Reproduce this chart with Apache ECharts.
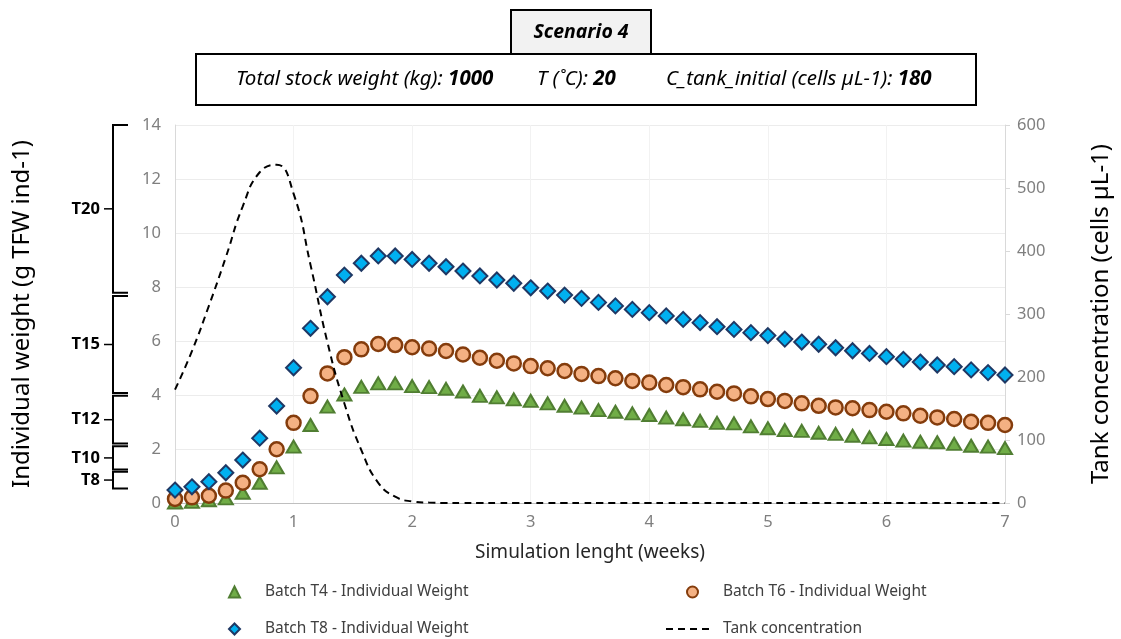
<!DOCTYPE html>
<html>
<head>
<meta charset="utf-8">
<script src="https://cdn.jsdelivr.net/npm/echarts@6/dist/echarts.min.js"></script>
<style>
  html, body { margin: 0; padding: 0; background: #fff; }
  #chart { width: 1121px; height: 639px; }
</style>
</head>
<body>
<div id="chart"></div>
<script>
// simulation day (one point per day, 7 weeks)
const days = [0, 1, 2, 3, 4, 5, 6, 7, 8, 9, 10, 11, 12, 13, 14, 15, 16, 17, 18, 19, 20, 21, 22, 23, 24,
  25, 26, 27, 28, 29, 30, 31, 32, 33, 34, 35, 36, 37, 38, 39, 40, 41, 42, 43, 44, 45, 46, 47, 48, 49]

const batchT4 = [0.02, 0.04, 0.10, 0.17, 0.38, 0.75, 1.32, 2.09, 2.89, 3.57,
  4.02, 4.30, 4.43, 4.43, 4.33, 4.29, 4.23, 4.13, 3.97, 3.91,
  3.84, 3.78, 3.69, 3.60, 3.53, 3.44, 3.38, 3.32, 3.26, 3.16,
  3.10, 3.04, 2.97, 2.95, 2.84, 2.77, 2.70, 2.67, 2.60, 2.56,
  2.49, 2.43, 2.37, 2.31, 2.27, 2.25, 2.19, 2.12, 2.09, 2.03]

const batchT6 = [0.15, 0.21, 0.27, 0.46, 0.75, 1.25, 1.99, 2.97, 3.96, 4.80,
  5.40, 5.69, 5.89, 5.85, 5.77, 5.72, 5.63, 5.50, 5.38, 5.27,
  5.17, 5.07, 4.99, 4.89, 4.78, 4.70, 4.62, 4.52, 4.46, 4.37,
  4.29, 4.21, 4.12, 4.06, 3.95, 3.85, 3.78, 3.69, 3.60, 3.54,
  3.51, 3.44, 3.38, 3.32, 3.23, 3.17, 3.11, 3.01, 2.97, 2.89]

const batchT8 = [0.48, 0.60, 0.79, 1.12, 1.59, 2.40, 3.59, 5.01, 6.47, 7.64,
  8.44, 8.88, 9.15, 9.15, 9.02, 8.88, 8.75, 8.59, 8.41, 8.26,
  8.14, 7.97, 7.85, 7.70, 7.58, 7.43, 7.30, 7.17, 7.05, 6.93,
  6.80, 6.68, 6.53, 6.43, 6.31, 6.20, 6.07, 5.96, 5.88, 5.75,
  5.64, 5.54, 5.42, 5.32, 5.22, 5.11, 5.05, 4.93, 4.83, 4.74]

// cells µL-1
const tankConc = [180, 241, 313, 390, 471, 525, 537, 491, 378, 255,
  158, 84, 32, 10, 2.5, 0.6, 0.1, 0, 0, 0,
  0, 0, 0, 0, 0, 0, 0, 0, 0, 0,
  0, 0, 0, 0, 0, 0, 0, 0, 0, 0,
  0, 0, 0, 0, 0, 0, 0, 0, 0, 0]

const seriesNames = ['Batch T4 - Individual Weight', 'Batch T6 - Individual Weight',
  'Batch T8 - Individual Weight', 'Tank concentration']

// temperature brackets beside the weight axis (weight units)
const bracketLabels = ['T20', 'T15', 'T12', 'T10', 'T8']
const bracketTop = [14, 7.67, 3.97, 2.10, 1.16]
const bracketBottom = [7.79, 4.07, 2.20, 1.24, 0.54]

const FONT = 'Noto Sans'
const toWeeks = (arr) => arr.map((v, i) => [days[i] / 7, v])

const chart = echarts.init(document.getElementById('chart'))

const legendText = (padLeft) => ({
  fontSize: 15.5, color: '#404040', fontFamily: FONT, padding: [0, 0, 0, padLeft]
})

const option = {
  animation: false,
  backgroundColor: '#fff',
  textStyle: { fontFamily: FONT },
  grid: { left: 175, right: 116, top: 125, bottom: 136 },
  xAxis: {
    type: 'value',
    min: 0,
    max: 7,
    interval: 1,
    name: 'Simulation lenght (weeks)',
    nameLocation: 'middle',
    nameGap: 40,
    nameTextStyle: { fontSize: 19, color: '#262626', fontFamily: FONT },
    axisLine: { lineStyle: { color: '#bfbfbf', width: 1 } },
    axisTick: { show: false },
    axisLabel: { color: '#7f7f7f', fontSize: 16.5, margin: 11, fontFamily: FONT },
    splitLine: { show: true, lineStyle: { color: '#f2f2f2' } }
  },
  yAxis: [
    {
      type: 'value',
      min: 0,
      max: 14,
      interval: 2,
      name: 'Individual weight (g TFW ind-1)',
      nameLocation: 'middle',
      nameGap: 141,
      nameTextStyle: { fontSize: 24, color: '#000', fontFamily: FONT },
      axisLine: { show: true, lineStyle: { color: '#d9d9d9' } },
      axisTick: { show: false },
      axisLabel: { color: '#7f7f7f', fontSize: 16.5, margin: 14, fontFamily: FONT },
      splitLine: { show: true, lineStyle: { color: '#ececec' } }
    },
    {
      type: 'value',
      min: 0,
      max: 600,
      interval: 100,
      position: 'right',
      name: 'Tank concentration (cells µL-1)',
      nameLocation: 'middle',
      nameGap: 84,
      nameRotate: 90,
      nameTextStyle: { fontSize: 24, color: '#000', fontFamily: FONT },
      axisLine: { show: true, lineStyle: { color: '#d9d9d9' } },
      axisTick: { show: true, length: 5, lineStyle: { color: '#d9d9d9' } },
      axisLabel: { color: '#7f7f7f', fontSize: 16.5, margin: 12, fontFamily: FONT },
      splitLine: { show: false }
    }
  ],
  legend: [
    { data: [seriesNames[0]], left: 228, top: 584, itemWidth: 11, itemHeight: 11, textStyle: legendText(20) },
    { data: [seriesNames[1]], left: 686, top: 584, itemWidth: 11, itemHeight: 11, textStyle: legendText(20) },
    { data: [seriesNames[2]], left: 228, top: 621, itemWidth: 11, itemHeight: 11, textStyle: legendText(20) },
    {
      data: [{
        name: seriesNames[3],
        itemStyle: { color: 'rgba(0,0,0,0)', borderColor: 'rgba(0,0,0,0)', borderWidth: 0 }
      }],
      left: 665, top: 621, itemWidth: 48, itemHeight: 11, textStyle: legendText(4)
    }
  ].map((l) => ({ ...l, padding: 0 })),
  series: [
    {
      name: seriesNames[0],
      type: 'scatter',
      symbol: 'triangle',
      symbolSize: [14, 12],
      clip: false,
      itemStyle: { color: '#70AD47', borderColor: '#507E32', borderWidth: 2, opacity: 1 },
      data: toWeeks(batchT4)
    },
    {
      name: seriesNames[1],
      type: 'scatter',
      symbol: 'circle',
      symbolSize: 14,
      clip: false,
      itemStyle: { color: '#F4B183', borderColor: '#843C0C', borderWidth: 2.5, opacity: 1 },
      data: toWeeks(batchT6)
    },
    {
      name: seriesNames[2],
      type: 'scatter',
      symbol: 'diamond',
      symbolSize: 15,
      clip: false,
      itemStyle: { color: '#00B0F0', borderColor: '#1F3864', borderWidth: 2, opacity: 1 },
      data: toWeeks(batchT8)
    },
    {
      name: seriesNames[3],
      type: 'line',
      yAxisIndex: 1,
      smooth: 0.5,
      symbol: 'none',
      showSymbol: false,
      itemStyle: { color: '#000' },
      lineStyle: { color: '#000', width: 2, type: [7, 5] },
      data: toWeeks(tankConc)
    }
  ]
}

chart.setOption(option)

// header boxes and the temperature brackets
const graphic = [
  { type: 'rect', shape: { x: 196, y: 54, width: 780, height: 51 }, style: { fill: '#fff', stroke: '#000', lineWidth: 2 } },
  { type: 'rect', shape: { x: 511, y: 10, width: 140, height: 44 }, style: { fill: '#f2f2f2', stroke: '#000', lineWidth: 2 } },
  {
    type: 'text', x: 581, y: 32,
    style: { text: 'Scenario 4', fill: '#000', font: 'italic bold 19.5px "Noto Sans"', align: 'center', verticalAlign: 'middle' }
  }
]
const header = [
  ['Total stock weight (kg): ', '1000', 236],
  ['T (˚C): ', '20', 537],
  ['C_tank_initial (cells µL-1): ', '180', 666]
]
header.forEach(([label, val, x]) => {
  graphic.push({
    type: 'text', x, y: 79,
    style: {
      text: '{i|' + label + '}{b|' + val + '}',
      verticalAlign: 'middle',
      rich: {
        i: { fontFamily: FONT, fontStyle: 'italic', fontSize: 20.5, fill: '#000' },
        b: { fontFamily: FONT, fontStyle: 'italic', fontWeight: 'bold', fontSize: 20.5, fill: '#000' }
      }
    }
  })
})

bracketLabels.forEach((label, i) => {
  const y1 = chart.convertToPixel({ yAxisIndex: 0 }, bracketTop[i])
  const y2 = chart.convertToPixel({ yAxisIndex: 0 }, bracketBottom[i])
  const ym = (y1 + y2) / 2
  graphic.push({
    type: 'polyline',
    shape: { points: [[128, y1], [113, y1], [113, y2], [128, y2]] },
    style: { stroke: '#000', lineWidth: 2, fill: null }
  })
  graphic.push({
    type: 'line',
    shape: { x1: 104, y1: ym, x2: 113, y2: ym },
    style: { stroke: '#000', lineWidth: 1.5 }
  })
  graphic.push({
    type: 'text', x: 100, y: ym,
    style: { text: label, fill: '#000', font: 'bold 16.5px "Noto Sans"', align: 'right', verticalAlign: 'middle' }
  })
})

chart.setOption({ graphic })
</script>
</body>
</html>
